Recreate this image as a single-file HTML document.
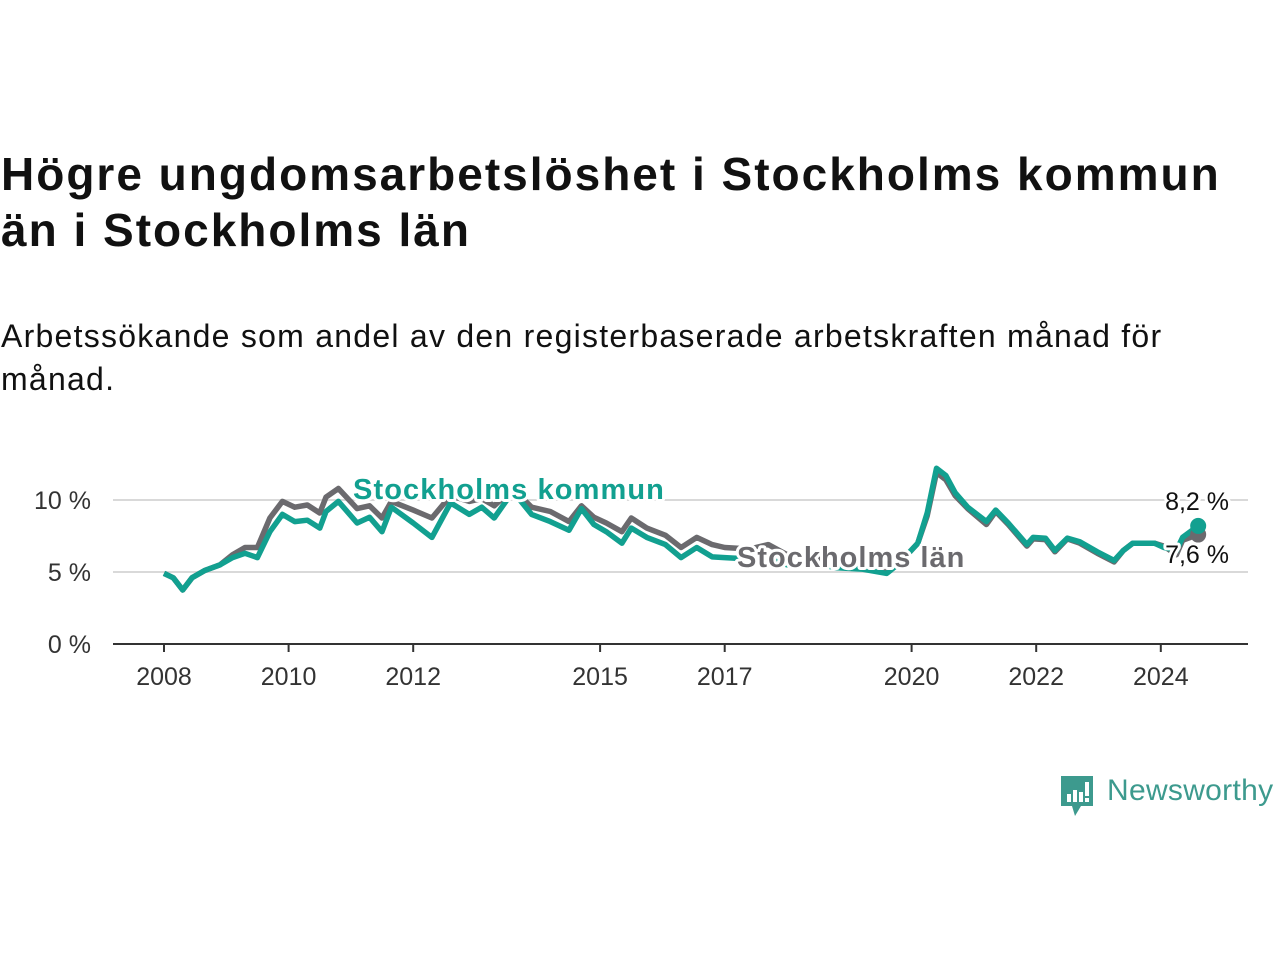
<!DOCTYPE html>
<html><head><meta charset="utf-8">
<style>
body{margin:0;width:1280px;height:960px;background:#fff;overflow:hidden;font-family:"Liberation Sans","DejaVu Sans",sans-serif;color:#111;}
#title{position:absolute;left:1px;top:146px;font-size:46px;font-weight:bold;line-height:56px;margin:0;letter-spacing:2px;}
#sub{position:absolute;left:1px;top:315px;font-size:32px;line-height:43px;margin:0;letter-spacing:1.25px;}
svg{position:absolute;left:0;top:0;}
</style></head><body>
<h1 id="title">Högre ungdomsarbetslöshet i Stockholms kommun<br>än i Stockholms län</h1>
<p id="sub">Arbetssökande som andel av den registerbaserade arbetskraften månad för<br>månad.</p>
<svg id="chart" width="1280" height="960"></svg>
<script>
const dates=[2008.0,2008.15,2008.3,2008.45,2008.65,2008.9,2009.1,2009.3,2009.5,2009.7,2009.9,2010.1,2010.3,2010.5,2010.6,2010.8,2011.1,2011.3,2011.5,2011.65,2012.0,2012.3,2012.6,2012.9,2013.1,2013.3,2013.6,2013.9,2014.2,2014.5,2014.7,2014.9,2015.1,2015.35,2015.5,2015.75,2016.05,2016.3,2016.55,2016.8,2017.0,2017.4,2017.7,2018.0,2018.4,2018.8,2019.2,2019.6,2019.8,2020.1,2020.25,2020.4,2020.55,2020.7,2020.9,2021.2,2021.35,2021.55,2021.85,2021.95,2022.15,2022.3,2022.5,2022.7,2022.98,2023.25,2023.4,2023.55,2023.9,2024.05,2024.25,2024.35,2024.6];
const kommun=[4.9,4.6,3.75,4.6,5.1,5.5,6.0,6.3,6.0,7.8,9.0,8.5,8.6,8.05,9.2,9.9,8.4,8.8,7.8,9.5,8.4,7.4,9.8,9.0,9.5,8.75,10.6,9.0,8.5,7.9,9.4,8.3,7.8,7.0,8.05,7.4,6.9,6.0,6.7,6.05,6.0,5.9,5.9,5.5,5.6,5.3,5.2,4.9,5.6,7.0,9.1,12.2,11.7,10.5,9.5,8.5,9.3,8.4,6.9,7.4,7.35,6.5,7.35,7.1,6.4,5.8,6.5,7.0,7.0,6.7,6.5,7.4,8.2];
const lan=[4.9,4.6,3.75,4.6,5.1,5.5,6.2,6.7,6.7,8.75,9.9,9.5,9.65,9.1,10.2,10.8,9.4,9.6,8.75,9.9,9.3,8.75,10.3,9.9,10.1,9.6,10.8,9.5,9.2,8.5,9.6,8.8,8.4,7.8,8.75,8.05,7.55,6.7,7.4,6.9,6.7,6.6,6.9,6.2,6.0,5.6,5.4,5.1,5.6,7.0,8.9,11.9,11.4,10.3,9.4,8.3,9.2,8.3,6.8,7.3,7.25,6.4,7.3,7.0,6.3,5.7,6.5,7.0,7.0,6.8,6.2,7.2,7.6];
const yTicks=[0,5,10];
const xTicks=[2008,2010,2012,2015,2017,2020,2022,2024];
const NS="http://www.w3.org/2000/svg";
const svg=document.getElementById('chart');
const X=v=>164+(v-2008)*62.3;
const Y=v=>644-v*14.4;
function el(t,a,txt){const e=document.createElementNS(NS,t);for(const k in a)e.setAttribute(k,a[k]);if(txt!==undefined)e.textContent=txt;svg.appendChild(e);return e;}
yTicks.forEach(v=>{
 if(v>0){const g=el('line',{x1:113,x2:1248,y1:Y(v),y2:Y(v),stroke:'#d9d9d9','stroke-width':2});
 
 }
 const t=el('text',{x:91,y:Y(v)+9,'text-anchor':'end','font-size':25,fill:'#333'},v+' %');
 
 
});
const ax=el('line',{x1:113,x2:1248,y1:644,y2:644,stroke:'#333','stroke-width':2});


xTicks.forEach(v=>{
 const tk=el('line',{x1:X(v),x2:X(v),y1:644,y2:652,stroke:'#333','stroke-width':2});
 
 
 const t=el('text',{x:X(v),y:685,'text-anchor':'middle','font-size':25,fill:'#333'},v);
 
 
});
function path(vals){return vals.map((v,i)=>(i?'L':'M')+X(dates[i]).toFixed(1)+','+Y(v).toFixed(1)).join('');}
const pl=el('path',{d:path(lan),fill:'none',stroke:'#6b6a6e','stroke-width':5.5,'stroke-linejoin':'round'});


const pk=el('path',{d:path(kommun),fill:'none',stroke:'#12a090','stroke-width':5.5,'stroke-linejoin':'round'});


const n=dates.length-1;
const dl=el('circle',{cx:X(dates[n]),cy:Y(lan[n]),r:8,fill:'#6b6a6e'});


const dk=el('circle',{cx:X(dates[n]),cy:Y(kommun[n]),r:8,fill:'#12a090'});


const st={stroke:'#fff','stroke-width':6,'paint-order':'stroke','stroke-linejoin':'round'};
const lk=el('text',Object.assign({x:353,y:499,'font-size':29,'font-weight':'bold',fill:'#12a090','letter-spacing':1.1},st),'Stockholms kommun');


const ll=el('text',Object.assign({x:737,y:567,'font-size':29,'font-weight':'bold',fill:'#6b6a6e','letter-spacing':1},st),'Stockholms län');


const vk=el('text',Object.assign({x:1229,y:510,'font-size':25,'text-anchor':'end',fill:'#111'},st),String(kommun[n]).replace('.',',')+' %');


const vl=el('text',Object.assign({x:1229,y:563,'font-size':25,'text-anchor':'end',fill:'#111'},st),String(lan[n]).replace('.',',')+' %');


</script>
<div style="position:absolute;left:1059px;top:774px;">
<svg width="36" height="44" style="position:absolute;left:0;top:0">
<path d="M2 2H34V32H22L16 42L13 32H2Z" fill="#3d9a8e"/>
<rect x="8" y="20" width="4" height="8" fill="#fff"/><rect x="14" y="16" width="4" height="12" fill="#fff"/><rect x="20" y="18" width="4" height="10" fill="#fff"/><rect x="26" y="8" width="4" height="14" fill="#fff"/><rect x="26" y="24" width="4" height="4" fill="#fff"/>
</svg>
<span style="position:absolute;left:48px;top:0;font-size:30px;color:#3d9a8e;white-space:nowrap;letter-spacing:0.3px;">Newsworthy</span>
</div>
</body></html>
